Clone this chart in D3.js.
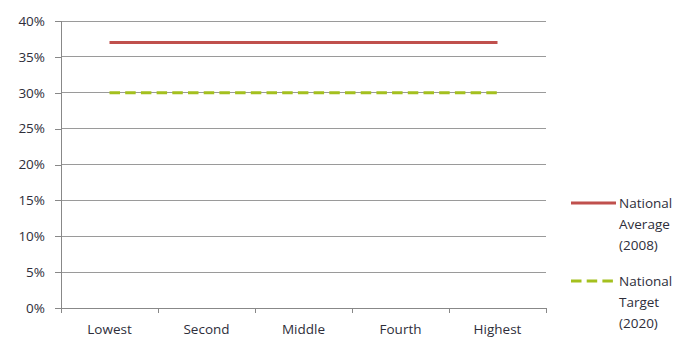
<!DOCTYPE html>
<html><head><meta charset="utf-8">
<script src="https://cdn.jsdelivr.net/npm/d3@7"></script>
<style>body{margin:0;background:#fff}svg{display:block}text{font-family:"Open Sans","DejaVu Sans",sans-serif;fill:#2e2e3a}</style>
</head><body><svg width="694" height="338"></svg>
<script>
const categories = ["Lowest","Second","Middle","Fourth","Highest"];
const nationalAverage = [0.37,0.37,0.37,0.37,0.37];
const nationalTarget = [0.30,0.30,0.30,0.30,0.30];
const yTicks = [0,0.05,0.10,0.15,0.20,0.25,0.30,0.35,0.40];
const seriesNames = [["National","Average","(2008)"],["National","Target","(2020)"]];

const svg = d3.select("svg");
const m = {l:61, r:546, t:21, b:308};
const x = d3.scaleBand().domain(categories).range([m.l, m.r]);
const y = d3.scaleLinear().domain([0,0.4]).range([m.b, m.t]);

svg.append("g").selectAll("line").data(yTicks.filter(d=>d>0)).join("line")
  .attr("x1", m.l).attr("x2", m.r).attr("y1", d=>y(d)).attr("y2", d=>y(d))
  .attr("stroke","#9a9a9a").attr("stroke-width",1).attr("shape-rendering","crispEdges");

const yAxis = svg.append("g").attr("transform",`translate(${m.l},0)`)
  .call(d3.axisLeft(y).tickValues(yTicks).tickFormat(d3.format(".0%")).tickSize(6).tickPadding(10));
const xAxis = svg.append("g").attr("transform",`translate(0,${m.b})`)
  .call(d3.axisBottom(x).tickSize(0).tickPadding(16));
svg.append("g").selectAll("line").data(categories.concat(["__end"])).join("line")
  .attr("x1",(d,i)=> i<categories.length ? x(d) : m.r)
  .attr("x2",(d,i)=> i<categories.length ? x(d) : m.r)
  .attr("y1", m.b).attr("y2", m.b+5)
  .attr("stroke","#888").attr("shape-rendering","crispEdges");
[yAxis,xAxis].forEach(g=>{
  g.selectAll("path.domain").attr("stroke","#888").attr("shape-rendering","crispEdges");
  g.selectAll(".tick line").attr("stroke","#888").attr("shape-rendering","crispEdges");
  g.selectAll("text").attr("font-size",13.5).attr("fill","#2e2e3a").style("font-family",'"Open Sans",sans-serif');
});
xAxis.select("path.domain").attr("d",`M${m.l},0.5H${m.r}`);

const line = d3.line().x((d,i)=>x(categories[i])+x.bandwidth()/2).y(d=>y(d));
svg.append("path").datum(nationalAverage).attr("d",line)
  .attr("fill","none").attr("stroke","#c0504d").attr("stroke-width",3);
svg.append("path").datum(nationalTarget).attr("d",line)
  .attr("fill","none").attr("stroke","#a4c01e").attr("stroke-width",3).attr("stroke-dasharray","10.5,5.2");

const lg = svg.append("g");
const styles = [{c:"#c0504d",dash:null,y:203},{c:"#a4c01e",dash:"10.5,5.2",y:281}];
styles.forEach((s,i)=>{
  lg.append("line").attr("x1",571).attr("x2",616).attr("y1",s.y).attr("y2",s.y)
    .attr("stroke",s.c).attr("stroke-width",3).attr("stroke-dasharray",s.dash);
  seriesNames[i].forEach((t,j)=>{
    lg.append("text").attr("x",619).attr("y",s.y+5+j*21).attr("font-size",13.5).text(t);
  });
});
</script></body></html>
